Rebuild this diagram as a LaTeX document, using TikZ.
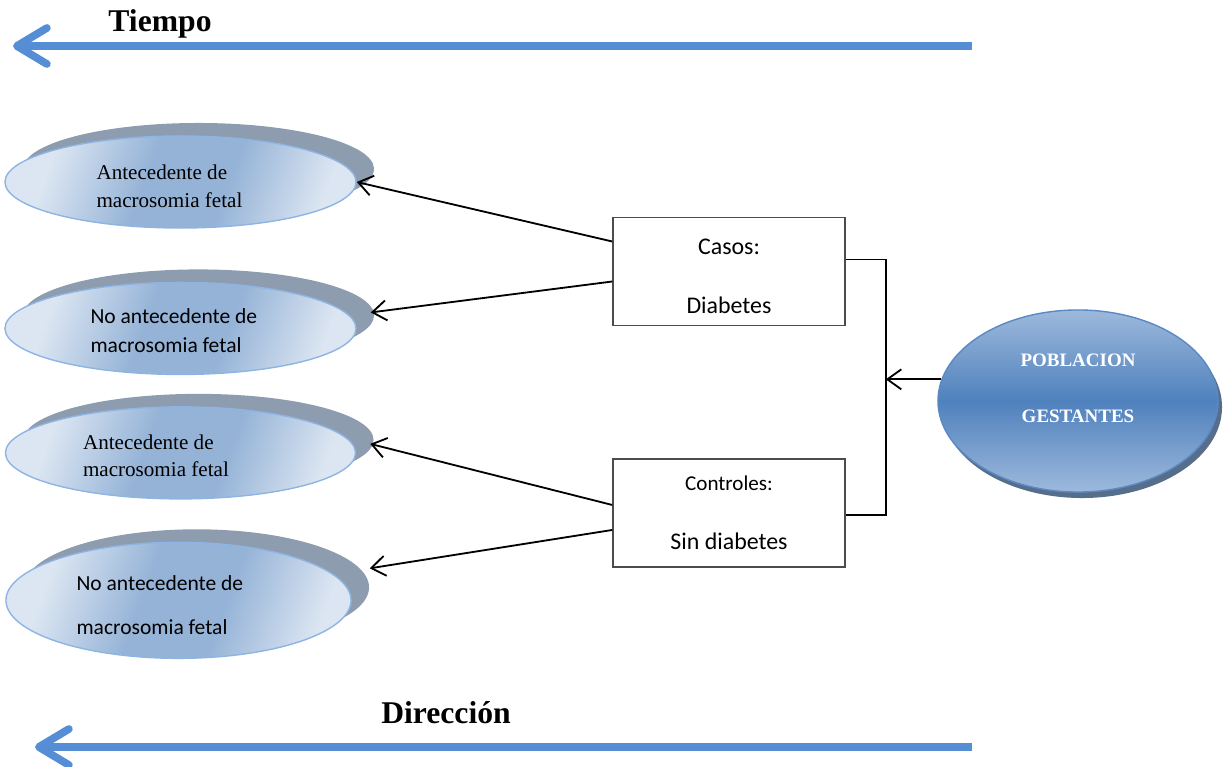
\documentclass[tikz,border=0pt]{standalone}
\usepackage{fontspec}
\setmainfont{Liberation Serif}
\newfontfamily\calibri{Carlito}
\usepackage{tikz}
\usetikzlibrary{arrows.meta,positioning,shapes.geometric,shadows,calc}
\definecolor{arrowblue}{HTML}{558ED5}
\definecolor{ellline}{HTML}{8EB4E3}
\definecolor{elllight}{HTML}{DCE6F2}
\definecolor{ellmid}{HTML}{95B3D7}
\definecolor{shadegrey}{HTML}{8D9CAE}
\definecolor{pobline}{HTML}{5B89C3}
\definecolor{poblight}{HTML}{9DB9DC}
\definecolor{pobmid}{HTML}{4F81BD}
\definecolor{pobshade}{HTML}{2C4A6E}
\pgfdeclarehorizontalshading{ellshade}{100bp}{color(0bp)=(elllight); color(27bp)=(elllight); color(44bp)=(ellmid); color(58bp)=(ellmid); color(75bp)=(elllight); color(100bp)=(elllight)}

\begin{document}
\begin{tikzpicture}[x=0.025cm,y=-0.025cm,every node/.style={align=center,inner sep=0pt},
antec/.style={ellipse,draw=ellline,line width=1pt,shading=ellshade,shading angle=-20,minimum width=8.775cm,minimum height=2.3cm,general shadow={fill=shadegrey,shadow xshift=0.45cm,shadow yshift=0.325cm}},
sertxt/.style={anchor=west,align=left,font=\fontsize{15}{20}\selectfont},
sanstxt/.style={anchor=west,align=left,font=\calibri\fontsize{15.3}{21}\selectfont},
caja/.style={draw=black!70,line width=1pt,minimum width=5.8cm,minimum height=2.7cm,font=\calibri\fontsize{17}{42}\selectfont},
link/.style={-{Straight Barb[length=3.5mm,width=5mm]},line width=1.3pt},
timeline/.style={-{Straight Barb[length=7.5mm,width=9mm,round]},line width=5.5pt,arrowblue},
titulo/.style={font=\bfseries\fontsize{22.5}{26}\selectfont}]
\useasboundingbox (0,0) rectangle (1230,767);
\node[antec] (ant1) at (180.5,182) {};
\node[antec,below=1.325cm of ant1] (noant1) {};
\node[antec,below=0.775cm of noant1,minimum width=8.75cm] (ant2) {};
\node[antec,below=1.05cm of ant2,minimum width=8.625cm,minimum height=2.9cm,xshift=-0.05cm] (noant2) {};
\node[sertxt] (ant1txt) at ($(ant1.west)+(92,4)$) {Antecedente de\\macrosomia fetal};
\node[sanstxt] (noant1txt) at ($(noant1.west)+(86,2)$) {No antecedente de\\macrosomia fetal};
\node[sertxt,font=\fontsize{15}{19}\selectfont] (ant2txt) at ($(ant2.west)+(78,3)$) {Antecedente de\\macrosomia fetal};
\node[sanstxt,font=\calibri\fontsize{15.3}{31}\selectfont] (noant2txt) at ($(noant2.west)+(71,5)$) {No antecedente de\\macrosomia fetal};
\node[caja] (casos) at (729,271.5) {\rule{0pt}{18pt}Casos:\\Diabetes};
\node[caja,below=3.3cm of casos] (controles) {{\fontsize{15}{42}\selectfont Controles:}\\Sin diabetes};
\node[ellipse,draw=pobline,line width=1pt,top color=poblight,bottom color=poblight,middle color=pobmid,minimum width=7cm,minimum height=4.55cm,drop shadow={fill=pobshade,shadow xshift=0.1cm,shadow yshift=-0.15cm,opacity=0.8}] (pob) at (1078,401) {};
\node[text=white,font=\bfseries\fontsize{13.5}{40}\selectfont] (pobtxt) at ($(pob.center)+(0,-13)$) {POBLACION\\GESTANTES};
\draw[link] ($(casos.west)+(0,-30)$) -- (ant1.east);
\draw[link] ($(casos.west)+(0,10)$) -- ($(noant1.east)+(14,-16)$);
\draw[link] ($(controles.west)+(0,-8)$) -- ($(ant2.east)+(14,-9)$);
\draw[link] ($(controles.west)+(0,17)$) -- ($(noant2.east)+(18,-32)$);
\draw[line width=1.3pt] ($(casos.east)+(0,-12)$) -- ++(40,0) coordinate (join) |- ($(controles.east)+(0,2)$);
\draw[link] (pob.171) -- (pob.171 -| join);
\coordinate (t0) at (972,46);
\coordinate (t1) at (13,46);
\draw[timeline] (t0) -- (t1);
\node[titulo] (tiempo) at (160,24) {Tiempo};
\coordinate (d0) at (972,747);
\coordinate (d1) at (35,747);
\draw[timeline] (d0) -- (d1);
\node[titulo] (direccion) at (446,713) {Dirección};
\end{tikzpicture}
\end{document}
